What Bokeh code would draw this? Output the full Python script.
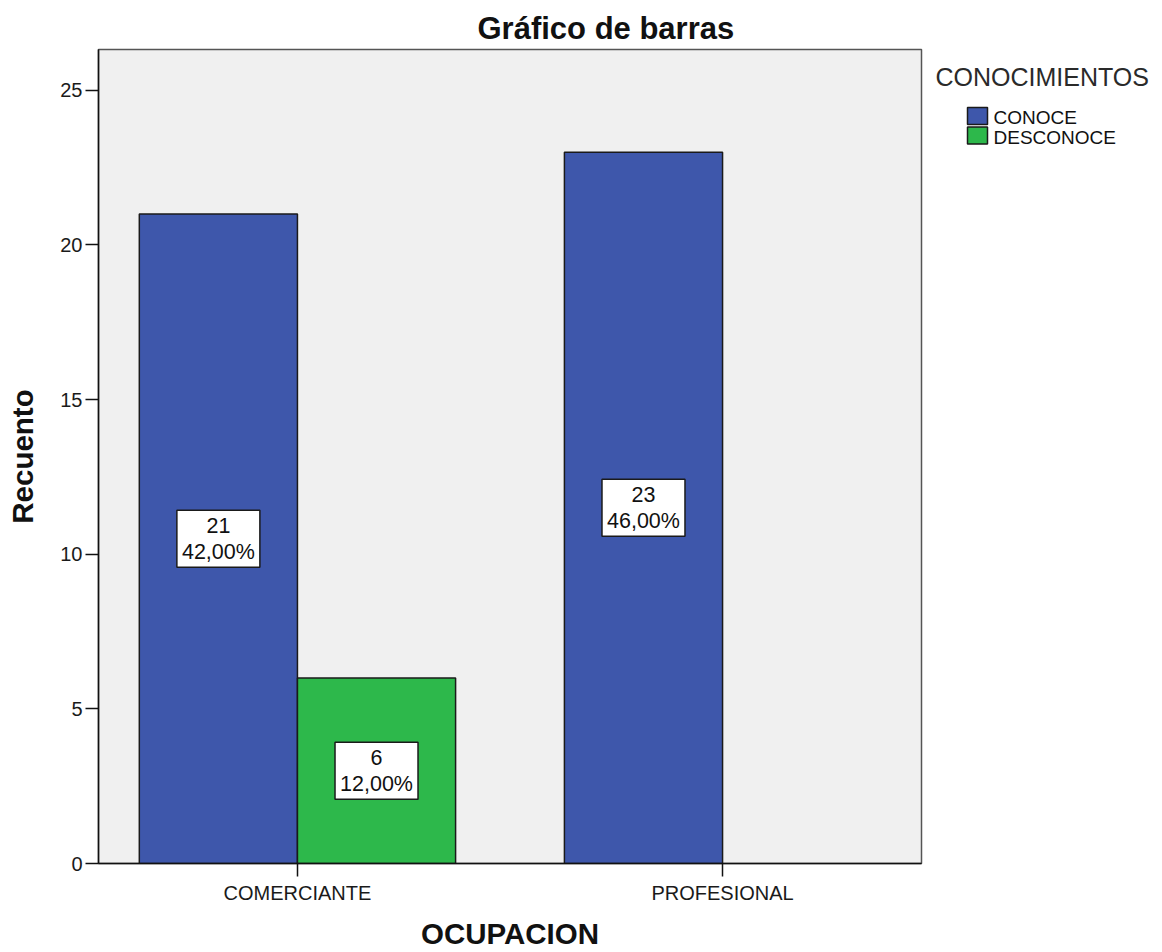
from bokeh.plotting import figure
from bokeh.layouts import row
from bokeh.models import ColumnDataSource, FixedTicker, Label, Range1d
from bokeh.embed import file_html
from bokeh.resources import INLINE
from bokeh.core.properties import value

# ---- data ----
ocupacion = ["COMERCIANTE", "PROFESIONAL"]
conocimientos = ["CONOCE", "DESCONOCE"]
conoce = [21, 23]
desconoce = [6, 0]
series_colors = ["#3E57AB", "#2DB84B"]
y_ticks = [0, 5, 10, 15, 20, 25]

FONT = "Liberation Sans"
series = [conoce, desconoce]
total = sum(sum(s) for s in series)
positions = [i + 1 for i in range(len(ocupacion))]
bar_w = 0.372
offsets = [-bar_w / 2, bar_w / 2]

MAIN_W = 924
TOP, BOTTOM = 49, 88
p = figure(width=MAIN_W, height=952, output_backend="svg", toolbar_location=None,
           x_range=Range1d(0.532, 2.468), y_range=Range1d(0, 26.32),
           min_border_left=98, min_border_right=3, min_border_top=TOP,
           min_border_bottom=BOTTOM, title="Gráfico de barras")

p.background_fill_color = "#F0F0F0"
p.border_fill_color = "white"
p.outline_line_color = "#555555"
p.outline_line_width = 1.5
p.grid.visible = False

for name, vals, col, off in zip(conocimientos, series, series_colors, offsets):
    xs = [pos + off for pos, v in zip(positions, vals) if v > 0]
    vs = [v for v in vals if v > 0]
    labels = [("%d\n%.2f%%" % (v, 100.0 * v / total)).replace(".", ",") for v in vs]
    src = ColumnDataSource(dict(x=xs, top=vs, mid=[v / 2 for v in vs], lab=labels))
    p.vbar(x="x", top="top", width=bar_w, source=src, fill_color=col,
           line_color="#1a1a1a", line_width=1.5)
    p.rect(x="x", y="mid", width=83, height=57, width_units="screen",
           height_units="screen", source=src, fill_color="white",
           line_color="#1a1a1a", line_width=1.5)
    p.text(x="x", y="mid", text="lab", source=src, text_align="center",
           text_baseline="middle", text_font=value(FONT), text_font_size="21.5px",
           text_line_height=1.1, text_color="#111111")

# axes
p.xaxis.ticker = FixedTicker(ticks=positions)
p.xaxis.major_label_overrides = {pos: lab for pos, lab in zip(positions, ocupacion)}
p.yaxis.ticker = FixedTicker(ticks=y_ticks)
p.xaxis.axis_label = "OCUPACION"
p.yaxis.axis_label = "Recuento"
for ax in (p.xaxis[0], p.yaxis[0]):
    ax.axis_line_color = "#111111"
    ax.axis_line_width = 1.5
    ax.major_tick_line_color = "#111111"
    ax.major_tick_line_width = 1.5
    ax.major_tick_out = 13
    ax.major_tick_in = 0
    ax.minor_tick_line_color = None
    ax.major_label_text_font = FONT
    ax.major_label_text_font_size = "20px"
    ax.major_label_text_color = "#1a1a1a"
    ax.axis_label_text_font = FONT
    ax.axis_label_text_font_size = "29.5px"
    ax.axis_label_text_font_style = "bold"
    ax.axis_label_text_color = "#111111"
p.xaxis.major_label_standoff = 5
p.yaxis.major_label_standoff = 3
p.xaxis.axis_label_standoff = 10
p.yaxis.axis_label_standoff = 18

p.title.text_font = FONT
p.title.text_font_size = "31px"
p.title.text_font_style = "bold"
p.title.text_color = "#111111"
p.title.align = "left"
p.title.offset = 379
p.title.standoff = 8

# ---- legend panel (same frame height as the chart, pixel-like coords) ----
LW = 1162 - MAIN_W
FRAME_BOTTOM = 952 - BOTTOM
q = figure(width=LW, height=952, output_backend="svg", toolbar_location=None,
           x_range=Range1d(MAIN_W, 1162), y_range=Range1d(FRAME_BOTTOM, TOP),
           min_border_left=0, min_border_right=0, min_border_top=TOP,
           min_border_bottom=BOTTOM)
q.axis.visible = False
q.grid.visible = False
q.outline_line_color = None
q.background_fill_color = "white"
q.border_fill_color = "white"

# legend swatches + labels (layout positions only)
SW_X, SW_Y0, SW_W, SW_H, STEP = 977, 115.5, 20, 17, 19.5
leg = ColumnDataSource(dict(
    x=[SW_X] * len(conocimientos),
    y=[SW_Y0 + i * STEP for i in range(len(conocimientos))],
    ty=[SW_Y0 + 2 + i * STEP for i in range(len(conocimientos))],
    tx=[SW_X + SW_W / 2 + 6] * len(conocimientos),
    color=series_colors, name=conocimientos))
q.rect(x="x", y="y", width=SW_W, height=SW_H, source=leg, fill_color="color",
       line_color="#1a1a1a", line_width=1.5)
q.text(x="tx", y="ty", text="name", source=leg, text_baseline="middle",
       text_font=value(FONT), text_font_size="19px", text_color="#111111")
q.add_layout(Label(x=935, y=77, text="CONOCIMIENTOS", text_baseline="middle",
                   text_font=FONT, text_font_size="25px", text_color="#2a2a2a"))

layout = row(p, q, spacing=0)
open("out.html", "w").write(file_html(layout, INLINE))
